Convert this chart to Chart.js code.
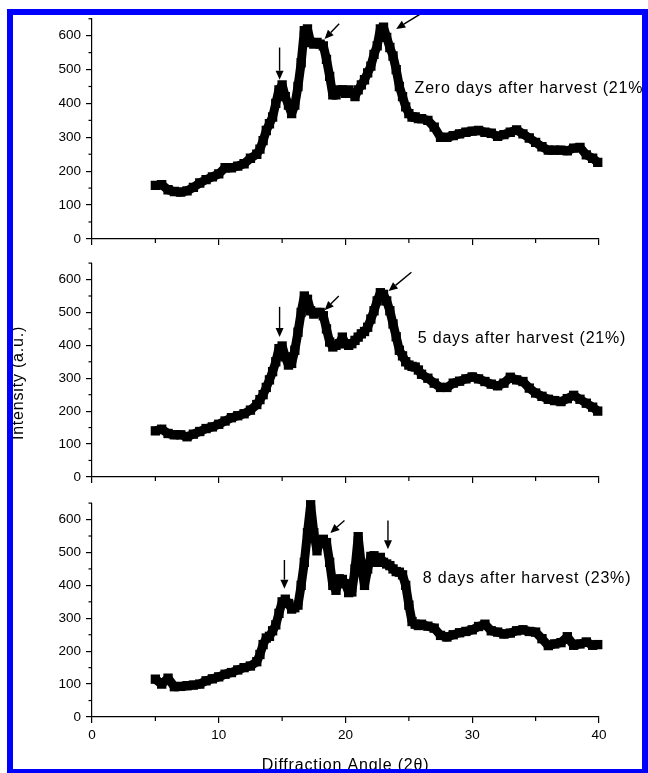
<!DOCTYPE html>
<html>
<head>
<meta charset="utf-8">
<script src="https://cdn.jsdelivr.net/npm/chart.js@4.4.0/dist/chart.umd.min.js"></script>
<style>
  html, body { margin: 0; padding: 0; background: #fff; overflow: hidden; }
  #page { position: relative; width: 648px; height: 773px; overflow: hidden; background: #fff; }
  #page canvas { position: absolute; left: 0; }
  #frame { position: absolute; left: 7px; top: 9px; width: 641px; height: 764px; box-sizing: border-box;
           border: 6px solid #0000ff; border-bottom-width: 4px; z-index: 5; }
  .mask { position: absolute; background: #fff; z-index: 6; }
</style>
</head>
<body>
<div id="page">
  <canvas id="c1" width="648" height="252" style="top:0px"></canvas>
  <canvas id="c2" width="648" height="240" style="top:250px"></canvas>
  <canvas id="c3" width="648" height="290" style="top:490px"></canvas>
  <div id="frame"></div>
  <div class="mask" style="left:0;top:0;width:7px;height:773px"></div>
  <div class="mask" style="left:0;top:0;width:648px;height:9px"></div>
</div>
<script>
// diffraction angle (2 theta)
const angles = [5, 5.5, 6, 6.5, 7, 7.5, 8, 8.5, 9, 9.5, 10, 10.5, 11, 11.5, 12, 12.5, 13,
  13.25, 13.5, 13.75, 14, 14.25, 14.5, 14.75, 15, 15.25, 15.5, 15.75, 16, 16.25, 16.5, 16.75, 17,
  17.25, 17.5, 17.75, 18, 18.25, 18.5, 18.75, 19, 19.25, 19.5, 19.75, 20, 20.25, 20.5, 20.75, 21,
  21.25, 21.5, 21.75, 22, 22.25, 22.5, 22.75, 23, 23.25, 23.5, 23.75, 24, 24.25, 24.5, 24.75, 25,
  25.25, 25.5, 25.75, 26,
  26.5, 27, 27.5, 28, 28.5, 29, 29.5, 30, 30.5, 31, 31.5, 32, 32.5, 33, 33.5, 34, 34.5, 35, 35.5,
  36, 36.5, 37, 37.5, 38, 38.5, 39, 39.5, 39.9];

const zeroDays = [158, 160, 145, 140, 138, 142, 152, 165, 175, 183, 192, 210, 210, 215, 222, 238, 250,
  265, 290, 320, 340, 360, 400, 440, 455, 420, 395, 370, 395, 450, 520, 615, 620,
  580, 575, 580, 575, 570, 530, 480, 425, 425, 440, 440, 430, 440, 430, 420, 440,
  455, 470, 490, 510, 545, 570, 620, 625, 595, 565, 540, 500, 450, 420, 390, 370,
  360, 360, 355, 355,
  350, 330, 300, 300, 305, 310, 315, 318, 320, 315, 312, 303, 308, 315, 322, 310, 298, 285, 272,
  262, 262, 262, 260, 268, 270, 248, 238, 226];

const fiveDays = [140, 145, 132, 128, 128, 122, 130, 138, 147, 152, 160, 170, 180, 186, 192, 203, 220,
  235, 250, 272, 295, 320, 350, 390, 398, 365, 340, 345, 385, 440, 500, 550, 540,
  505, 495, 500, 500, 490, 450, 410, 395, 400, 405, 425, 405, 400, 405, 415, 425,
  435, 442, 455, 480, 505, 535, 560, 555, 535, 505, 465, 426, 385, 368, 350, 340,
  336, 334, 325, 312,
  300, 285, 272, 272, 285, 291, 298, 304, 298, 290, 282, 277, 285, 303, 295, 290, 270, 255, 245,
  236, 232, 229, 238, 248, 236, 224, 212, 200];

const eightDays = [115, 100, 118, 92, 93, 95, 97, 100, 110, 116, 122, 130, 135, 143, 150, 155, 168,
  190, 220, 240, 245, 262, 280, 315, 350, 358, 345, 328, 332, 340, 400, 470, 560,
  645, 560, 505, 535, 540, 530, 470, 400, 385, 420, 418, 405, 378, 380, 450, 548,
  460, 400, 450, 488, 490, 470, 485, 470, 465, 460, 450, 442, 440, 432, 400, 340,
  290, 282, 278, 282,
  276, 270, 248, 243, 250, 256, 260, 265, 275, 282, 262, 258, 252, 255, 262, 265, 260, 258, 238,
  217, 222, 226, 244, 218, 222, 228, 218, 220];

const yTicks = [0, 100, 200, 300, 400, 500, 600];
const xTicks = [0, 10, 20, 30, 40];

const panelNames = ['Zero days after harvest (21%)', '5 days after harvest (21%)', '8 days after harvest (23%)'];
const nameAt = [[25.45, 445], [25.7, 420], [26.1, 422]];

// arrows: [fromX, fromY, toX, toY] in data units
const arrowsZero = [[14.8, 565, 14.8, 470], [19.5, 635, 18.35, 590], [26.6, 680, 24.0, 620]];
const arrowsFive = [[14.8, 517, 14.8, 425], [19.47, 550, 18.35, 507], [25.2, 622, 23.4, 565]];
const arrowsEight = [[15.18, 477, 15.18, 390], [19.92, 597, 18.8, 559], [23.35, 597, 23.35, 510]];

const FONT = '"Liberation Sans", Arial, sans-serif';
Chart.defaults.font.family = FONT;
Chart.defaults.color = '#000';

function arrow(ctx, x1, y1, x2, y2) {
  const a = Math.atan2(y2 - y1, x2 - x1);
  const hl = 9, hw = 4;
  const bx = x2 - hl * Math.cos(a), by = y2 - hl * Math.sin(a);
  ctx.beginPath();
  ctx.moveTo(x1, y1);
  ctx.lineTo(bx, by);
  ctx.stroke();
  ctx.beginPath();
  ctx.moveTo(x2, y2);
  ctx.lineTo(bx + hw * Math.sin(a), by - hw * Math.cos(a));
  ctx.lineTo(bx - hw * Math.sin(a), by + hw * Math.cos(a));
  ctx.closePath();
  ctx.fill();
}

const decor = {
  id: 'decor',
  afterDraw(chart, args, o) {
    const ctx = chart.ctx, xs = chart.scales.x, ys = chart.scales.y;
    ctx.save();
    ctx.strokeStyle = '#000';
    ctx.fillStyle = '#000';
    ctx.lineWidth = 1.2;
    // minor ticks
    for (let v = 50; v <= 650; v += 100) {
      const py = ys.getPixelForValue(v);
      ctx.beginPath(); ctx.moveTo(xs.left - 3.5, py); ctx.lineTo(xs.left, py); ctx.stroke();
    }
    for (let v = 5; v < 40; v += 10) {
      const px = xs.getPixelForValue(v);
      ctx.beginPath(); ctx.moveTo(px, ys.bottom); ctx.lineTo(px, ys.bottom + 4); ctx.stroke();
    }
    // arrows
    ctx.lineWidth = 1.4;
    o.arrows.forEach(a => {
      arrow(ctx, xs.getPixelForValue(a[0]), ys.getPixelForValue(a[1]),
                 xs.getPixelForValue(a[2]), ys.getPixelForValue(a[3]));
    });
    // panel label
    ctx.font = '16px ' + FONT;
    ctx.letterSpacing = '0.8px';
    ctx.textBaseline = 'middle';
    ctx.textAlign = 'left';
    ctx.fillText(o.name, xs.getPixelForValue(o.nameAt[0]), ys.getPixelForValue(o.nameAt[1]));
    if (o.yTitle) {
      ctx.save();
      ctx.translate(19, o.yTitleY);
      ctx.rotate(-Math.PI / 2);
      ctx.textAlign = 'center';
      ctx.fillText(o.yTitle, 0, 0);
      ctx.restore();
    }
    if (o.xTitle) {
      ctx.textAlign = 'center';
      ctx.fillText(o.xTitle, (xs.left + xs.right) / 2, ys.bottom + 49);
    }
    ctx.restore();
  }
};

function makePanel(id, values, opt) {
  const pts = angles.map((a, i) => ({ x: a, y: values[i] }));
  return new Chart(document.getElementById(id), {
    type: 'line',
    data: {
      datasets: [{
        data: pts,
        borderColor: '#000',
        borderWidth: 9,
        borderJoinStyle: 'bevel',
        pointStyle: 'rect',
        pointRadius: 6.6,
        pointBorderWidth: 0,
        pointBackgroundColor: '#000',
        tension: 0,
        clip: 12
      }]
    },
    options: {
      responsive: false,
      animation: false,
      events: [],
      layout: { padding: { top: opt.padTop, right: 49, bottom: 0, left: 0 } },
      plugins: {
        legend: { display: false },
        tooltip: { enabled: false },
        decor: opt.decor
      },
      scales: {
        x: {
          type: 'linear',
          min: 0,
          max: 40,
          afterBuildTicks: s => { s.ticks = xTicks.map(v => ({ value: v })); },
          afterFit: s => { s.height = opt.axisH; },
          ticks: { display: opt.showX, font: { size: 13.5 }, padding: 4, maxRotation: 0 },
          grid: { drawOnChartArea: false, tickLength: 6, color: '#000', lineWidth: 1.2 },
          border: { color: '#000', width: 1.2 }
        },
        y: {
          min: 0,
          max: 650,
          afterBuildTicks: s => { s.ticks = yTicks.map(v => ({ value: v })); },
          afterFit: s => { s.width = 92; },
          ticks: { font: { size: 13.5 }, padding: 5 },
          grid: { drawOnChartArea: false, tickLength: 6, color: '#000', lineWidth: 1.2 },
          border: { color: '#000', width: 1.2 }
        }
      }
    },
    plugins: [decor]
  });
}

makePanel('c1', zeroDays, {
  padTop: 18.75, axisH: 9, showX: false,
  decor: { name: panelNames[0], nameAt: nameAt[0], arrows: arrowsZero }
});
makePanel('c2', fiveDays, {
  padTop: 5.5, axisH: 9, showX: false,
  decor: { name: panelNames[1], nameAt: nameAt[1], arrows: arrowsFive, yTitle: 'Intensity (a.u.)', yTitleY: 133 }
});
makePanel('c3', eightDays, {
  padTop: 1.6, axisH: 63, showX: true,
  decor: { name: panelNames[2], nameAt: nameAt[2], arrows: arrowsEight, xTitle: 'Diffraction Angle (2θ)' }
});
</script>
</body>
</html>
